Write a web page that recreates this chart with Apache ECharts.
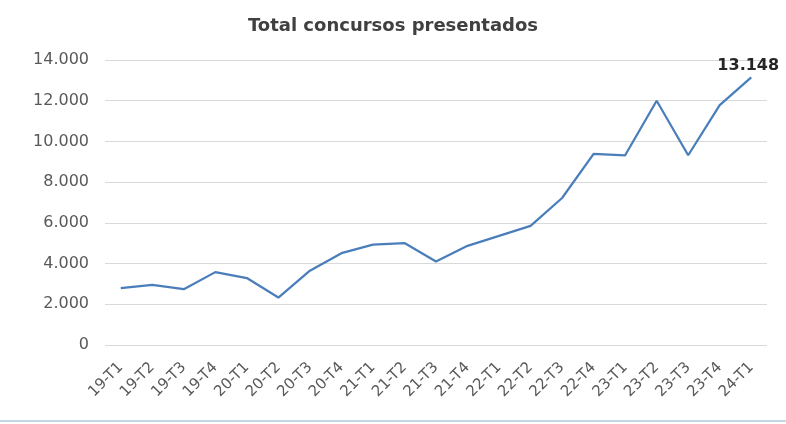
<!DOCTYPE html>
<html>
<head>
<meta charset="utf-8">
<script src="https://cdn.jsdelivr.net/npm/echarts@6/dist/echarts.min.js"></script>
<style>html,body{margin:0;padding:0;background:#fff}#c{width:786px;height:424px}</style>
</head>
<body>
<div id="c"></div>
<script>
const title = "Total concursos presentados";
const categories = ["19-T1","19-T2","19-T3","19-T4","20-T1","20-T2","20-T3","20-T4","21-T1","21-T2","21-T3","21-T4","22-T1","22-T2","22-T3","22-T4","23-T1","23-T2","23-T3","23-T4","24-T1"];
const values = [2790,2950,2740,3580,3290,2330,3650,4510,4930,5010,4100,4870,5360,5850,7220,9390,9320,12000,9320,11780,13148];
const yTicks = {min:0, max:14000, interval:2000};

function fmt(v){ return String(Math.round(v)).replace(/\B(?=(\d{3})+(?!\d))/g, "."); }

const chart = echarts.init(document.getElementById('c'));
chart.setOption({
  animation:false,
  title:{text:title,left:'center',top:12,textStyle:{fontFamily:'DejaVu Sans',fontSize:18,fontWeight:'bold',color:'#404040'}},
  grid:{left:105,right:19,top:60,bottom:79},
  xAxis:{type:'category',data:categories,boundaryGap:true,
    axisLine:{show:false},axisTick:{show:false},
    axisLabel:{rotate:45,interval:0,fontFamily:'DejaVu Sans',fontSize:15,color:'#595959',margin:20}},
  yAxis:{type:'value',min:yTicks.min,max:yTicks.max,interval:yTicks.interval,
    axisLine:{show:false},axisTick:{show:false},
    splitLine:{lineStyle:{color:'#d9d9d9',width:1}},
    axisLabel:{formatter:fmt,fontFamily:'DejaVu Sans',fontSize:16,color:'#595959',margin:16}},
  series:[{type:'line',
    data:values.map((v,i)=>i===values.length-1?{value:v,label:{show:true,position:'top',formatter:p=>fmt(p.value),fontFamily:'DejaVu Sans',fontSize:16,fontWeight:'bold',color:'#262626',distance:4,offset:[-3,0]}}:v),
    symbol:'circle',symbolSize:0,showSymbol:true,
    lineStyle:{color:'#4a7ebb',width:2.25},itemStyle:{color:'#4a7ebb'}}],
  graphic:[{type:'line',shape:{x1:0,y1:421,x2:786,y2:421},style:{stroke:'#c6d6e6',lineWidth:2}}]
});
</script>
</body>
</html>
